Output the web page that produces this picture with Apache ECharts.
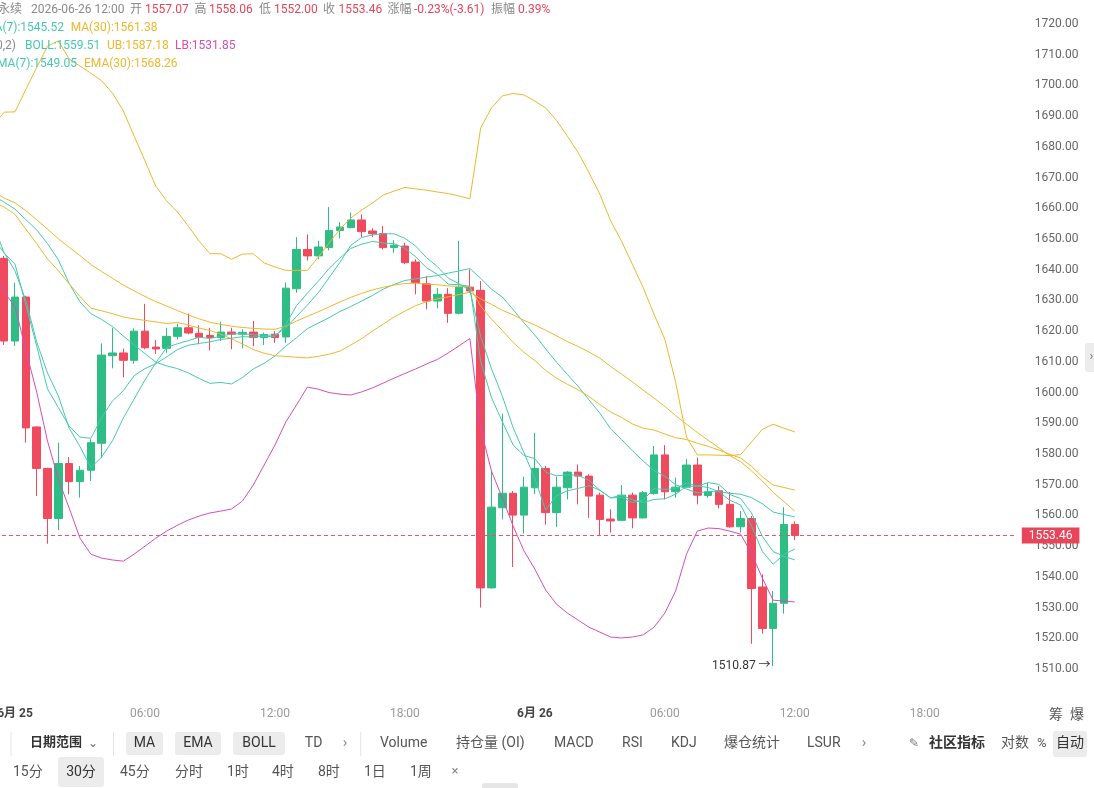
<!DOCTYPE html>
<html>
<head>
<meta charset="utf-8">
<title>永续 30分</title>
<script src="https://cdn.jsdelivr.net/npm/echarts@6/dist/echarts.min.js"></script>
<style>
  html, body { margin: 0; padding: 0; background: #fff; }
  #main { width: 1094px; height: 788px; }
</style>
</head>
<body>
<div id="main"></div>
<script>
// 30分 K线: 6/24 23:00 起, 每根 30 分钟
var startTime = Date.UTC(2026, 5, 24, 23, 0);
var slotCount = 95;

// [开, 收, 低, 高]  第一个为画面外的空位
var candles = [
  '-',
  [1643.7, 1616.8, 1615.5, 1644.5], [1616.8, 1631.1, 1615.2, 1635.8], [1631.1, 1588.5, 1583.7, 1631.5],
  [1588.8, 1575.3, 1566.3, 1589.0], [1575.3, 1559.0, 1550.8, 1575.5], [1559.0, 1576.9, 1555.2, 1583.7],
  [1576.9, 1571.0, 1566.9, 1579.0], [1571.0, 1574.7, 1565.8, 1576.1], [1574.7, 1583.7, 1571.2, 1584.8],
  [1583.5, 1612.2, 1578.8, 1616.0], [1612.0, 1612.9, 1607.9, 1621.1], [1612.9, 1610.5, 1605.0, 1614.3],
  [1610.5, 1620.0, 1609.4, 1620.9], [1620.0, 1614.6, 1614.1, 1628.9], [1614.8, 1614.2, 1612.6, 1617.1],
  [1614.4, 1618.3, 1612.9, 1621.1], [1618.3, 1621.1, 1617.3, 1622.4], [1621.1, 1619.4, 1619.0, 1625.7],
  [1619.3, 1618.0, 1615.7, 1621.9], [1618.6, 1617.9, 1613.7, 1621.1], [1617.9, 1619.7, 1616.8, 1623.1],
  [1619.7, 1619.0, 1614.1, 1621.1], [1619.0, 1619.6, 1614.4, 1620.6], [1619.7, 1617.9, 1615.1, 1623.3],
  [1617.9, 1618.9, 1615.5, 1619.5], [1619.0, 1617.9, 1616.2, 1620.0], [1618.1, 1634.0, 1616.2, 1635.8],
  [1633.8, 1646.6, 1632.5, 1650.6], [1646.6, 1644.5, 1643.0, 1651.5], [1644.5, 1647.4, 1643.4, 1649.4],
  [1647.2, 1652.8, 1646.3, 1660.4], [1652.8, 1653.9, 1650.2, 1655.5], [1653.7, 1656.2, 1653.5, 1658.6],
  [1656.2, 1652.4, 1650.6, 1658.0], [1652.6, 1651.7, 1650.6, 1653.5], [1651.8, 1647.2, 1646.6, 1654.2],
  [1647.2, 1648.0, 1645.5, 1649.6], [1647.7, 1642.3, 1641.8, 1648.8], [1642.5, 1635.8, 1632.0, 1643.4],
  [1635.4, 1629.8, 1627.1, 1638.0], [1629.8, 1632.0, 1627.4, 1634.0], [1632.0, 1625.8, 1622.7, 1634.0],
  [1625.8, 1634.3, 1625.5, 1649.4], [1634.3, 1633.1, 1632.5, 1640.1], [1633.3, 1536.4, 1530.0, 1636.3],
  [1536.4, 1562.7, 1536.2, 1574.7], [1562.5, 1567.2, 1558.7, 1593.1], [1567.2, 1560.1, 1543.2, 1568.0],
  [1560.1, 1569.2, 1554.1, 1572.6], [1569.0, 1575.3, 1566.9, 1586.9], [1575.3, 1560.9, 1557.0, 1576.1],
  [1560.9, 1569.2, 1556.2, 1572.6], [1569.0, 1574.1, 1565.2, 1574.4], [1574.1, 1572.8, 1563.6, 1576.6],
  [1572.8, 1566.3, 1559.2, 1573.4], [1566.6, 1558.7, 1553.6, 1567.4], [1558.8, 1558.2, 1554.4, 1562.0],
  [1558.4, 1566.6, 1558.2, 1569.9], [1566.6, 1559.2, 1555.8, 1567.4], [1559.2, 1567.4, 1559.0, 1568.0],
  [1567.1, 1579.7, 1566.8, 1582.6], [1579.7, 1567.7, 1565.2, 1582.9], [1567.7, 1569.2, 1565.8, 1572.3],
  [1569.2, 1576.4, 1569.0, 1578.3], [1576.4, 1566.6, 1563.6, 1578.8], [1566.5, 1567.7, 1565.8, 1570.6],
  [1568.0, 1563.6, 1562.3, 1569.6], [1563.6, 1556.3, 1556.0, 1567.6], [1556.3, 1559.0, 1554.4, 1561.4],
  [1559.0, 1536.2, 1518.2, 1559.8], [1536.7, 1523.2, 1521.5, 1540.8], [1523.2, 1531.4, 1510.87, 1535.4],
  [1531.4, 1557.07, 1528.0, 1562.7], [1557.07, 1553.46, 1552.0, 1558.06]
];

var ma7 = [1650.0, 1645.5, 1639.6, 1630.0, 1616.5, 1606.4, 1598.9, 1588.4, 1582.4, 1575.6,
  1579.0, 1584.3, 1591.7, 1597.9, 1604.1, 1609.7, 1614.7, 1615.9, 1616.9, 1618.0,
  1617.6, 1618.4, 1619.1, 1619.2, 1618.8, 1618.7, 1618.7, 1621.0, 1624.8, 1628.5,
  1632.5, 1637.4, 1642.4, 1647.9, 1650.5, 1651.3, 1651.7, 1651.7, 1650.2, 1647.7,
  1643.9, 1641.0, 1637.3, 1635.4, 1633.3, 1618.2, 1607.7, 1598.8, 1588.5, 1580.4,
  1572.0, 1561.7, 1566.4, 1568.0, 1568.8, 1569.7, 1568.2, 1565.7, 1566.6, 1565.1,
  1564.2, 1565.2, 1565.4, 1566.9, 1569.5, 1569.5, 1570.7, 1570.1, 1566.8, 1565.5,
  1560.8, 1553.2, 1548.2, 1546.7, 1545.52];

var ma30 = [1662.0, 1660.4, 1658.0, 1653.2, 1648.5, 1643.5, 1639.7, 1635.4, 1631.3, 1627.5,
  1626.6, 1625.7, 1624.6, 1624.0, 1623.5, 1623.0, 1622.5, 1622.8, 1622.0, 1621.0,
  1620.2, 1619.0, 1617.5, 1615.8, 1614.0, 1612.8, 1612.0, 1611.8, 1611.5, 1611.3,
  1611.8, 1612.5, 1613.5, 1615.5, 1617.5, 1620.0, 1622.3, 1624.6, 1626.5, 1628.3,
  1629.6, 1630.5, 1631.2, 1631.9, 1632.7, 1630.5, 1628.7, 1626.8, 1625.3, 1623.5,
  1622.0, 1620.3, 1618.5, 1616.6, 1615.0, 1613.2, 1611.2, 1608.5, 1606.0, 1603.5,
  1600.8, 1598.2, 1595.5, 1592.5, 1589.7, 1587.0, 1584.5, 1582.0, 1579.5, 1577.5,
  1574.5, 1571.2, 1567.5, 1564.5, 1561.38];

var ema7 = [1654.9, 1645.4, 1641.8, 1628.5, 1615.2, 1601.2, 1595.1, 1589.1, 1585.5, 1585.1,
  1591.9, 1597.3, 1600.6, 1605.5, 1607.8, 1609.4, 1611.6, 1614.0, 1615.4, 1616.0,
  1616.5, 1617.3, 1617.7, 1618.2, 1618.1, 1618.3, 1618.2, 1622.2, 1628.3, 1632.4,
  1636.2, 1640.4, 1643.8, 1646.9, 1648.3, 1649.2, 1648.7, 1648.5, 1647.0, 1644.2,
  1640.6, 1638.5, 1635.3, 1635.1, 1634.6, 1610.1, 1598.3, 1590.5, 1582.9, 1579.5,
  1578.5, 1574.1, 1572.9, 1573.2, 1573.1, 1571.4, 1568.2, 1565.7, 1565.9, 1564.2,
  1565.0, 1568.7, 1568.5, 1568.7, 1570.6, 1569.6, 1569.1, 1567.7, 1564.9, 1563.4,
  1556.6, 1548.3, 1544.1, 1547.3, 1549.05];

var ema30 = [1665.5, 1663.3, 1661.8, 1659.2, 1656.3, 1653.2, 1650.1, 1647.3, 1644.6, 1641.7,
  1639.4, 1637.2, 1635.0, 1633.1, 1631.3, 1629.6, 1628.2, 1626.7, 1625.3, 1624.0,
  1622.9, 1622.2, 1621.6, 1621.2, 1620.9, 1620.7, 1620.6, 1621.6, 1623.3, 1624.8,
  1626.3, 1627.9, 1629.5, 1631.0, 1632.3, 1633.4, 1634.3, 1635.0, 1635.5, 1635.6,
  1635.3, 1635.1, 1634.7, 1634.6, 1634.4, 1628.1, 1623.9, 1620.2, 1616.3, 1613.1,
  1610.4, 1607.2, 1604.7, 1602.7, 1600.9, 1598.7, 1596.1, 1593.7, 1591.9, 1589.8,
  1588.4, 1587.8, 1586.5, 1585.3, 1584.7, 1583.5, 1582.5, 1581.3, 1579.9, 1578.7,
  1576.0, 1572.6, 1569.9, 1569.1, 1568.26];

var bollMid = [1664.0, 1662.0, 1659.7, 1656.3, 1653.0, 1648.5, 1643.2, 1635.5, 1629.5, 1625.7,
  1623.8, 1621.5, 1618.4, 1615.5, 1612.7, 1609.9, 1608.7, 1607.8, 1606.4, 1604.6,
  1603.0, 1603.3, 1602.8, 1604.9, 1607.7, 1609.5, 1611.9, 1615.1, 1617.9, 1620.8,
  1622.6, 1624.4, 1626.4, 1628.0, 1629.8, 1631.6, 1633.7, 1635.2, 1636.5, 1637.0,
  1637.6, 1638.1, 1638.9, 1639.6, 1640.4, 1637.2, 1633.6, 1631.1, 1627.0, 1622.7,
  1618.7, 1614.2, 1609.9, 1605.9, 1602.0, 1597.6, 1593.3, 1588.2, 1584.7, 1581.1,
  1577.7, 1574.6, 1572.8, 1570.0, 1568.6, 1567.3, 1567.8, 1567.7, 1567.2, 1566.9,
  1565.8, 1563.8, 1561.1, 1560.3, 1559.51];

var bollUp = [1687.0, 1691.3, 1691.4, 1698.7, 1705.8, 1712.8, 1714.5, 1708.6, 1706.3, 1704.0,
  1701.5, 1697.5, 1691.7, 1683.5, 1675.4, 1667.2, 1662.4, 1658.8, 1654.2, 1649.3,
  1645.2, 1645.2, 1643.4, 1645.1, 1645.2, 1642.2, 1640.9, 1639.8, 1639.8, 1639.8,
  1644.1, 1648.7, 1653.2, 1656.8, 1659.4, 1661.7, 1664.3, 1665.6, 1666.8, 1666.3,
  1665.9, 1665.3, 1664.8, 1664.0, 1663.1, 1686.2, 1692.7, 1696.6, 1697.4, 1696.9,
  1694.9, 1692.7, 1688.6, 1683.5, 1678.1, 1671.6, 1664.6, 1655.9, 1649.3, 1641.8,
  1634.2, 1625.5, 1617.4, 1603.4, 1585.5, 1579.7, 1579.7, 1579.6, 1579.5, 1579.8,
  1583.9, 1588.0, 1589.7, 1588.4, 1587.18];

var bollLow = [1641.0, 1632.7, 1628.0, 1613.8, 1600.2, 1584.2, 1571.8, 1562.4, 1552.6, 1547.4,
  1546.1, 1545.5, 1545.1, 1547.4, 1550.0, 1552.6, 1554.9, 1556.8, 1558.5, 1559.8,
  1560.8, 1561.4, 1562.1, 1564.7, 1569.9, 1576.4, 1582.9, 1590.4, 1596.0, 1601.8,
  1601.1, 1600.0, 1599.5, 1599.2, 1600.2, 1601.5, 1603.1, 1604.7, 1606.2, 1607.7,
  1609.3, 1610.8, 1612.9, 1615.2, 1617.6, 1588.1, 1574.4, 1565.6, 1556.5, 1548.4,
  1542.5, 1535.7, 1531.1, 1528.2, 1525.9, 1523.6, 1522.0, 1520.4, 1520.1, 1520.4,
  1521.1, 1523.6, 1528.2, 1535.4, 1547.4, 1554.9, 1555.9, 1555.7, 1554.9, 1553.9,
  1547.7, 1539.6, 1532.4, 1532.1, 1531.85];

var lastPrice = 1553.46;
var lowPrice = 1510.87;
var lowTime = '2026-06-26 11:00';

var upColor = '#2ebd85';
var downColor = '#ef4a5d';
var tealColor = '#45c9b1';
var orangeColor = '#f0b62d';
var pinkColor = '#d54fb6';
var font = 'Roboto, "Noto Sans CJK SC", sans-serif';

function pad(n) {
  return n < 10 ? '0' + n : '' + n;
}

var categories = [];
for (var i = 0; i < slotCount; i++) {
  var d = new Date(startTime + i * 30 * 60 * 1000);
  categories.push(d.getUTCFullYear() + '-' + pad(d.getUTCMonth() + 1) + '-' + pad(d.getUTCDate()) +
    ' ' + pad(d.getUTCHours()) + ':' + pad(d.getUTCMinutes()));
}

function lineSeries(name, data, color) {
  return {
    name: name,
    type: 'line',
    data: data,
    showSymbol: false,
    silent: true,
    lineStyle: { color: color, width: 1 },
    itemStyle: { color: color }
  };
}

function txt(x, y, text, color, opts) {
  opts = opts || {};
  return {
    type: 'text',
    x: x,
    y: y,
    z: 100,
    style: {
      text: text,
      fill: color,
      font: (opts.weight || 'normal') + ' ' + (opts.size || 12) + 'px ' + font,
      textAlign: opts.align || 'left',
      textVerticalAlign: 'middle'
    }
  };
}

function box(x, y, w, h, fill) {
  return { type: 'rect', shape: { x: x, y: y, width: w, height: h, r: 3 }, style: { fill: fill }, z: 90 };
}

function vline(x, y1, y2) {
  return { type: 'line', shape: { x1: x, y1: y1, x2: x, y2: y2 }, style: { stroke: '#e4e4e4', lineWidth: 1 }, z: 90 };
}

var gray = '#8a8a8a';
var red = '#e8445a';
var tool = '#555';

var graphics = [
  // 顶部信息
  txt(-2, 10, '永续', gray),
  txt(31, 10, '2026-06-26 12:00', gray),
  txt(130, 10, '开', gray), txt(145, 10, '1557.07', red),
  txt(194.6, 10, '高', gray), txt(209, 10, '1558.06', red),
  txt(259, 10, '低', gray), txt(274, 10, '1552.00', red),
  txt(323, 10, '收', gray), txt(338.6, 10, '1553.46', red),
  txt(387.5, 10, '涨幅', gray), txt(414, 10, '-0.23%(-3.61)', red),
  txt(491, 10, '振幅', gray), txt(518, 10, '0.39%', red),

  txt(64, 28, 'MA(7):1545.52', tealColor, { align: 'right' }),
  txt(70.7, 28, 'MA(30):1561.38', orangeColor),

  txt(16, 46, 'BOLL(20,2)', gray, { align: 'right' }),
  txt(25, 46, 'BOLL:1559.51', tealColor),
  txt(107, 46, 'UB:1587.18', orangeColor),
  txt(175, 46, 'LB:1531.85', pinkColor),

  txt(77, 63.5, 'EMA(7):1549.05', tealColor, { align: 'right' }),
  txt(84, 63.5, 'EMA(30):1568.26', orangeColor),

  // 右下 筹 爆
  txt(1049, 715, '筹', tool, { size: 14 }),
  txt(1070, 715, '爆', tool, { size: 14 }),

  // 右侧小把手
  box(1085, 343, 12, 29, '#ececec'),
  txt(1089.5, 357, '›', '#777', { size: 13 }),

  // 工具栏第一行
  vline(11, 732, 756),
  txt(30, 743, '日期范围', '#333', { size: 13, weight: 'bold' }),
  txt(88, 744, '⌄', '#666', { size: 12 }),
  vline(113.5, 732, 756),
  box(126, 732, 37, 23, '#ececec'), txt(144.5, 743.5, 'MA', '#333', { size: 14, align: 'center' }),
  box(175, 732, 46, 23, '#ececec'), txt(198, 743.5, 'EMA', '#333', { size: 14, align: 'center' }),
  box(233, 732, 52, 23, '#ececec'), txt(259, 743.5, 'BOLL', '#333', { size: 14, align: 'center' }),
  txt(313.6, 743.5, 'TD', tool, { size: 14, align: 'center' }),
  txt(345, 743.5, '›', '#888', { size: 15, align: 'center' }),
  vline(360.7, 732, 756),
  txt(380, 743.5, 'Volume', tool, { size: 14 }),
  txt(456, 743.5, '持仓量 (OI)', tool, { size: 14 }),
  txt(554, 743.5, 'MACD', tool, { size: 14 }),
  txt(622, 743.5, 'RSI', tool, { size: 14 }),
  txt(671, 743.5, 'KDJ', tool, { size: 14 }),
  txt(724, 743.5, '爆仓统计', tool, { size: 14 }),
  txt(807, 743.5, 'LSUR', tool, { size: 14 }),
  txt(864, 743.5, '›', '#888', { size: 15, align: 'center' }),
  txt(909, 743.5, '✎', '#777', { size: 12 }),
  txt(929, 743.5, '社区指标', '#333', { size: 14, weight: 'bold' }),
  txt(1001, 743.5, '对数', tool, { size: 14 }),
  txt(1037, 743.5, '%', tool, { size: 13 }),
  box(1053, 731, 34, 26, '#ececec'), txt(1070, 743.5, '自动', '#333', { size: 14, align: 'center' }),

  // 工具栏第二行
  txt(13, 772, '15分', tool, { size: 14 }),
  box(58, 757, 46, 30, '#ececec'), txt(81, 772, '30分', '#333', { size: 14, align: 'center' }),
  txt(120, 772, '45分', tool, { size: 14 }),
  txt(175, 772, '分时', tool, { size: 14 }),
  txt(227, 772, '1时', tool, { size: 14 }),
  txt(272, 772, '4时', tool, { size: 14 }),
  txt(318, 772, '8时', tool, { size: 14 }),
  txt(364, 772, '1日', tool, { size: 14 }),
  txt(410, 772, '1周', tool, { size: 14 }),
  txt(455, 772, '×', '#888', { size: 13, align: 'center' }),
  box(482, 783, 36, 10, '#e6e6e6')
];

var chart = echarts.init(document.getElementById('main'), null, { renderer: 'canvas' });

var option = {
  backgroundColor: '#ffffff',
  animation: false,
  textStyle: { fontFamily: font },
  grid: {
    left: -12.05,
    top: -6.7,
    width: 1028.85,
    height: 706.4,
    containLabel: false,
    outerBoundsMode: 'none'
  },
  xAxis: {
    type: 'category',
    data: categories,
    boundaryGap: true,
    axisLine: { show: false },
    axisTick: { show: false },
    splitLine: { show: false },
    axisLabel: {
      color: '#999',
      fontSize: 12,
      margin: 8,
      interval: function (idx, val) {
        var hm = val.slice(11);
        return hm === '00:00' || hm === '06:00' || hm === '12:00' || hm === '18:00';
      },
      formatter: function (val) {
        var hm = val.slice(11);
        if (hm === '00:00') {
          return '{d|' + Number(val.slice(5, 7)) + '月 ' + val.slice(8, 10) + '}';
        }
        return hm;
      },
      rich: {
        d: { fontWeight: 'bold', color: '#444', fontSize: 12 }
      }
    }
  },
  yAxis: {
    type: 'value',
    position: 'right',
    min: 1500,
    max: 1730,
    interval: 10,
    axisLine: { show: false },
    axisTick: { show: false },
    splitLine: { show: false },
    axisLabel: {
      color: '#666',
      fontSize: 12,
      margin: 18,
      formatter: function (v) {
        if (v < 1505 || v > 1725) return '';
        return v.toFixed(2);
      }
    }
  },
  series: [
    {
      name: 'K',
      type: 'candlestick',
      data: candles,
      barWidth: 8,
      itemStyle: {
        color: upColor,
        color0: downColor,
        borderColor: upColor,
        borderColor0: downColor,
        borderWidth: 1
      },
      markLine: {
        silent: true,
        symbol: ['none', 'none'],
        data: [{ yAxis: lastPrice }],
        lineStyle: { color: '#e2566b', width: 1, type: [4, 3] },
        label: {
          position: 'end',
          distance: 5,
          formatter: lastPrice.toFixed(2),
          backgroundColor: '#e8455a',
          color: '#fff',
          fontSize: 12,
          padding: [2, 7, 2, 7]
        }
      },
      markPoint: {
        silent: true,
        symbol: 'circle',
        symbolSize: 1,
        itemStyle: { color: 'rgba(0,0,0,0)' },
        data: [{ coord: [lowTime, lowPrice] }],
        label: {
          show: true,
          position: 'left',
          distance: 2,
          formatter: lowPrice.toFixed(2) + ' →',
          color: '#333',
          fontSize: 12
        }
      }
    },
    lineSeries('BOLL', bollMid, tealColor),
    lineSeries('UB', bollUp, orangeColor),
    lineSeries('LB', bollLow, pinkColor),
    lineSeries('MA30', ma30, orangeColor),
    lineSeries('EMA30', ema30, orangeColor),
    lineSeries('MA7', ma7, tealColor),
    lineSeries('EMA7', ema7, tealColor)
  ],
  graphic: graphics
};

chart.setOption(option);
</script>
</body>
</html>
